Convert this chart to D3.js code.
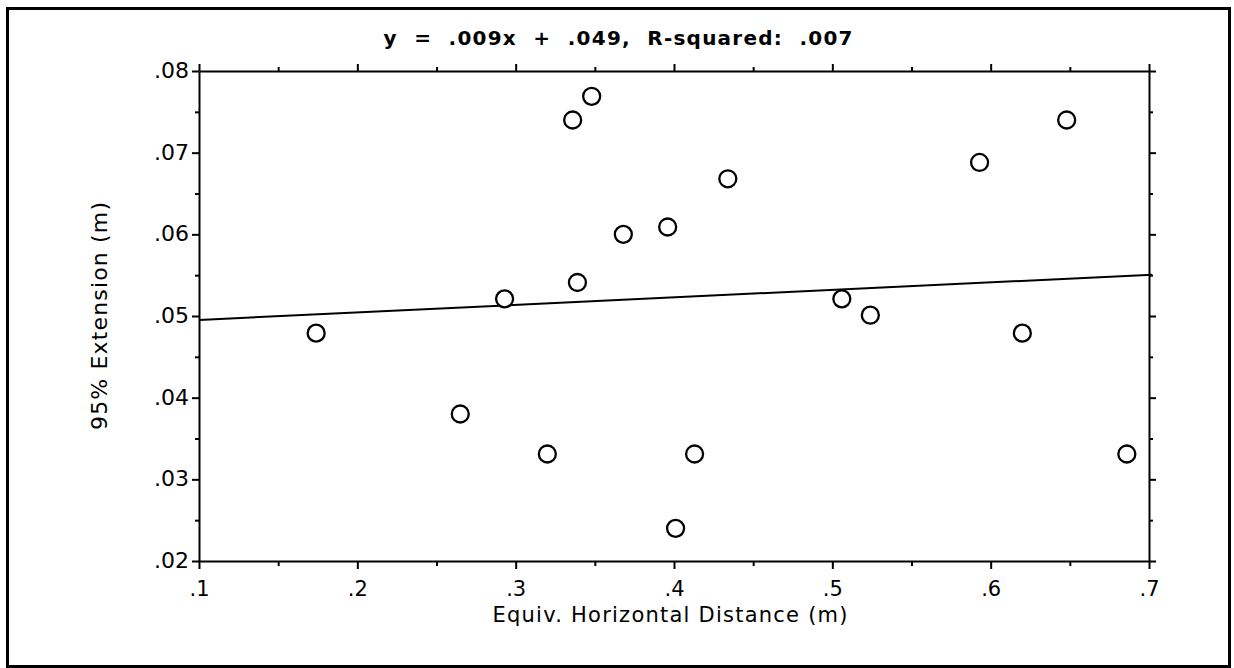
<!DOCTYPE html>
<html>
<head>
<meta charset="utf-8">
<script src="https://cdn.jsdelivr.net/npm/d3@7"></script>
<style>
  body { margin: 0; background: #fff; }
  text { font-family: "DejaVu Sans", sans-serif; fill: #000; }
  .axis path, .axis line { stroke: #000; stroke-width: 2; }
</style>
</head>
<body>
<script>
// data
var distance = [0.174, 0.265, 0.293, 0.320, 0.336, 0.339, 0.348, 0.368, 0.396, 0.401,
                0.413, 0.434, 0.506, 0.524, 0.593, 0.620, 0.648, 0.686];
var extension = [0.0479, 0.0380, 0.0521, 0.0331, 0.0740, 0.0541, 0.0769, 0.0600, 0.0609, 0.0240,
                 0.0331, 0.0668, 0.0521, 0.0501, 0.0688, 0.0479, 0.0740, 0.0331];
var fitSlope = 0.0092, fitIntercept = 0.0486;

var xTicks = [0.1, 0.2, 0.3, 0.4, 0.5, 0.6, 0.7];
var xMinor = [0.15, 0.25, 0.35, 0.45, 0.55, 0.65];
var yTicks = [0.02, 0.03, 0.04, 0.05, 0.06, 0.07, 0.08];
var yMinor = [0.025, 0.035, 0.045, 0.055, 0.065, 0.075];

var titleText = "y  =  .009x  +  .049,  R-squared:  .007";
var xLabel = "Equiv. Horizontal Distance (m)";
var yLabel = "95% Extension (m)";

var w = 1234, h = 668;
var pLeft = 199, pRight = 1149, pTop = 71, pBottom = 561;

var svg = d3.select("body").append("svg")
    .attr("width", w)
    .attr("height", h);

// outer frame
svg.append("rect")
    .attr("x", 7.5).attr("y", 8.5)
    .attr("width", 1222).attr("height", 658)
    .style("fill", "none")
    .style("stroke", "#000")
    .style("stroke-width", 3);

var x = d3.scaleLinear().domain([0.1, 0.7]).range([pLeft, pRight]);
var y = d3.scaleLinear().domain([0.02, 0.08]).range([pBottom, pTop]);

var fmt = function(d){ return d3.format(".2~f")(d).replace(/^0/, ""); };

// major + minor ticks on all four sides
function addAxis(gen, ticks, size, tx, ty, labels){
    var g = svg.append("g")
        .attr("class", "axis")
        .attr("transform", "translate(" + tx + "," + ty + ")")
        .call(gen.tickValues(ticks).tickSize(size).tickSizeOuter(0)
            .tickFormat(labels ? fmt : ""));
    return g;
}

var gx = addAxis(d3.axisBottom(x), xTicks, 8, 0, pBottom, true);
addAxis(d3.axisBottom(x), xMinor, 5, 0, pBottom, false).select(".domain").remove();
addAxis(d3.axisTop(x), xTicks, 7, 0, pTop, false);
addAxis(d3.axisTop(x), xMinor, 4, 0, pTop, false).select(".domain").remove();
var gy = addAxis(d3.axisLeft(y), yTicks, 7, pLeft, 0, true);
addAxis(d3.axisLeft(y), yMinor, 4, pLeft, 0, false).select(".domain").remove();
addAxis(d3.axisRight(y), yTicks, 7, pRight, 0, false);
addAxis(d3.axisRight(y), yMinor, 4, pRight, 0, false).select(".domain").remove();

gx.selectAll("text")
    .style("font-size", "21px")
    .attr("y", 35).attr("dy", 0);
gy.selectAll("text")
    .style("font-size", "22px")
    .attr("x", -10).attr("dy", "0.3em");

// regression line
svg.append("line")
    .attr("x1", x(0.1)).attr("y1", y(fitSlope * 0.1 + fitIntercept))
    .attr("x2", x(0.702)).attr("y2", y(fitSlope * 0.702 + fitIntercept))
    .style("stroke", "#000")
    .style("stroke-width", 2);

// points
svg.selectAll(".pt")
    .data(distance)
    .enter()
    .append("circle")
    .attr("class", "pt")
    .attr("cx", function(d){ return x(d); })
    .attr("cy", function(d, i){ return y(extension[i]); })
    .attr("r", 8.5)
    .style("fill", "#fff")
    .style("stroke", "#000")
    .style("stroke-width", 2.3);

// title
svg.append("text")
    .attr("x", 618).attr("y", 45)
    .attr("text-anchor", "middle")
    .attr("textLength", 469)
    .attr("lengthAdjust", "spacing")
    .style("font-size", "20px")
    .style("font-weight", "bold")
    .style("white-space", "pre")
    .text(titleText);

svg.append("text")
    .attr("x", 670).attr("y", 622)
    .attr("text-anchor", "middle")
    .attr("textLength", 355)
    .attr("lengthAdjust", "spacing")
    .style("font-size", "21px")
    .text(xLabel);

svg.append("text")
    .attr("transform", "translate(107," + ((pTop + pBottom) / 2) + ") rotate(-90)")
    .attr("text-anchor", "middle")
    .attr("textLength", 228)
    .attr("lengthAdjust", "spacing")
    .style("font-size", "22px")
    .text(yLabel);
</script>
</body>
</html>
